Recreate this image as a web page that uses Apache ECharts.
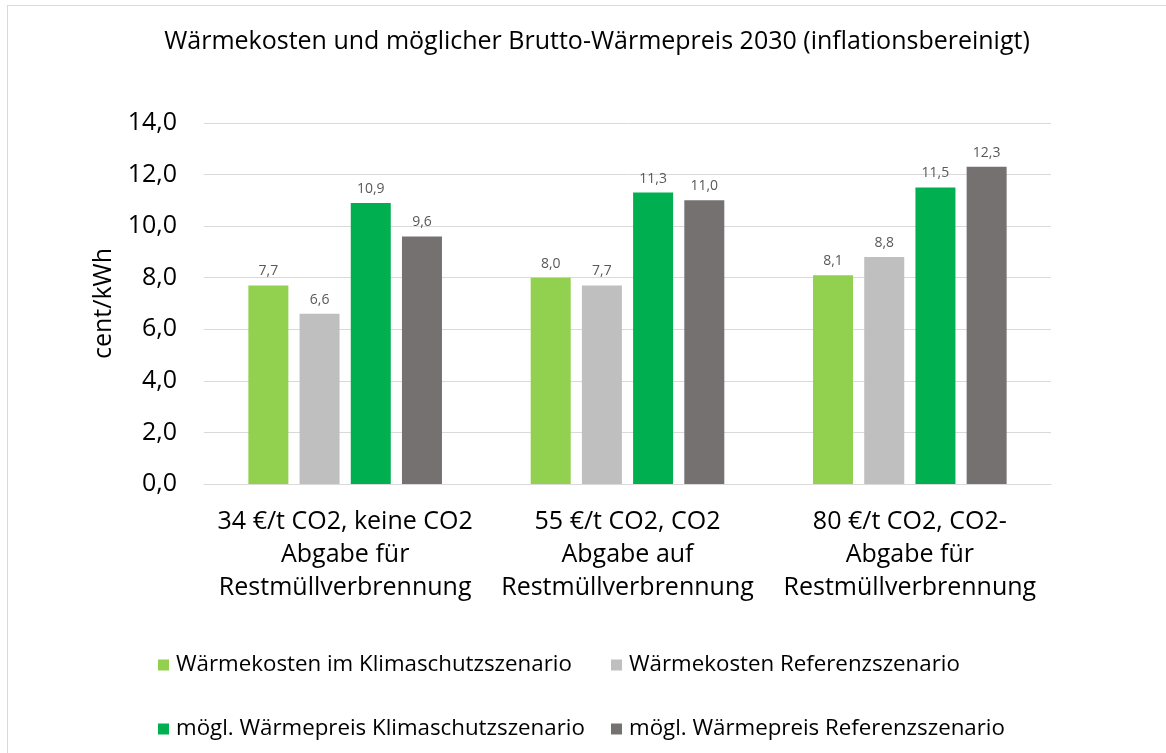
<!DOCTYPE html>
<html style="height: 100%">
   <head>
       <meta charset="utf-8">
   </head>
   <body style="height: 100%; margin: 0; background: #fff">
       <div id="frame" style="position: absolute; left: 7px; top: 5px; width: 1200px; height: 800px; border-left: 1px solid #d9d9d9; border-top: 1px solid #d9d9d9"></div>
       <div id="container" style="position: absolute; left: 0; top: 0; width: 1166px; height: 753px"></div>
       <script type="text/javascript" src="https://cdn.jsdelivr.net/npm/echarts@6/dist/echarts.min.js"></script>
       <script type="text/javascript">
var categories = [
    '34 €/t CO2, keine CO2\nAbgabe für\nRestmüllverbrennung',
    '55 €/t CO2, CO2\nAbgabe auf\nRestmüllverbrennung',
    '80 €/t CO2, CO2-\nAbgabe für\nRestmüllverbrennung'
];
var seriesNames = [
    'Wärmekosten im Klimaschutzszenario',
    'Wärmekosten Referenzszenario',
    'mögl. Wärmepreis Klimaschutzszenario',
    'mögl. Wärmepreis Referenzszenario'
];
var kostenKlima = [7.7, 8.0, 8.1];
var kostenRef = [6.6, 7.7, 8.8];
var preisKlima = [10.9, 11.3, 11.5];
var preisRef = [9.6, 11.0, 12.3];
var colors = ['#92D050', '#BFBFBF', '#00B050', '#767171'];

var dom = document.getElementById("container");
var myChart = echarts.init(dom);
var font = 'Open Sans';

function fmt(v) {
    return v.toFixed(1).replace('.', ',');
}

function bar(i, data) {
    return {
        name: seriesNames[i],
        type: 'bar',
        data: data,
        barWidth: 40,
        barGap: '28%',
        itemStyle: { color: colors[i] },
        label: {
            show: true,
            position: 'top',
            distance: 7,
            color: '#595959',
            fontFamily: font,
            fontSize: 14,
            formatter: function (p) { return fmt(p.value); }
        }
    };
}

function legendItem(i, left, top) {
    return {
        data: [seriesNames[i]],
        left: left,
        top: top,
        icon: 'rect',
        itemWidth: 11,
        itemHeight: 11,
        itemGap: 0,
        padding: 0,
        textStyle: { fontFamily: font, fontSize: 22.3, color: '#000', padding: [0, 0, 0, 2] }
    };
}

var option = {
    animation: false,
    title: {
        text: 'Wärmekosten und möglicher Brutto-Wärmepreis 2030 (inflationsbereinigt)',
        left: 592,
        textAlign: 'center',
        top: 24,
        textStyle: { fontFamily: font, fontSize: 25, fontWeight: 'normal', color: '#000' }
    },
    legend: [
        legendItem(0, 158, 654),
        legendItem(1, 611, 654),
        legendItem(2, 158, 718),
        legendItem(3, 611, 718)
    ],
    grid: { left: 204, right: 115, top: 123, bottom: 269 },
    xAxis: {
        type: 'category',
        data: categories,
        axisTick: { show: false },
        axisLine: { lineStyle: { color: '#d9d9d9' } },
        axisLabel: {
            interval: 0,
            margin: 21,
            fontFamily: font,
            fontSize: 25,
            lineHeight: 33,
            color: '#000'
        }
    },
    yAxis: {
        type: 'value',
        min: 0,
        max: 14,
        interval: 2,
        name: 'cent/kWh',
        nameLocation: 'middle',
        nameGap: 81,
        nameRotate: 90,
        nameTextStyle: { fontFamily: font, fontSize: 25, color: '#000' },
        axisLabel: {
            margin: 27,
            fontFamily: font,
            fontSize: 25,
            color: '#000',
            formatter: function (v) { return fmt(v); }
        },
        splitLine: { lineStyle: { color: '#d9d9d9' } }
    },
    series: [
        bar(0, kostenKlima),
        bar(1, kostenRef),
        bar(2, preisKlima),
        bar(3, preisRef)
    ]
};

myChart.setOption(option, true);
       </script>
   </body>
</html>
